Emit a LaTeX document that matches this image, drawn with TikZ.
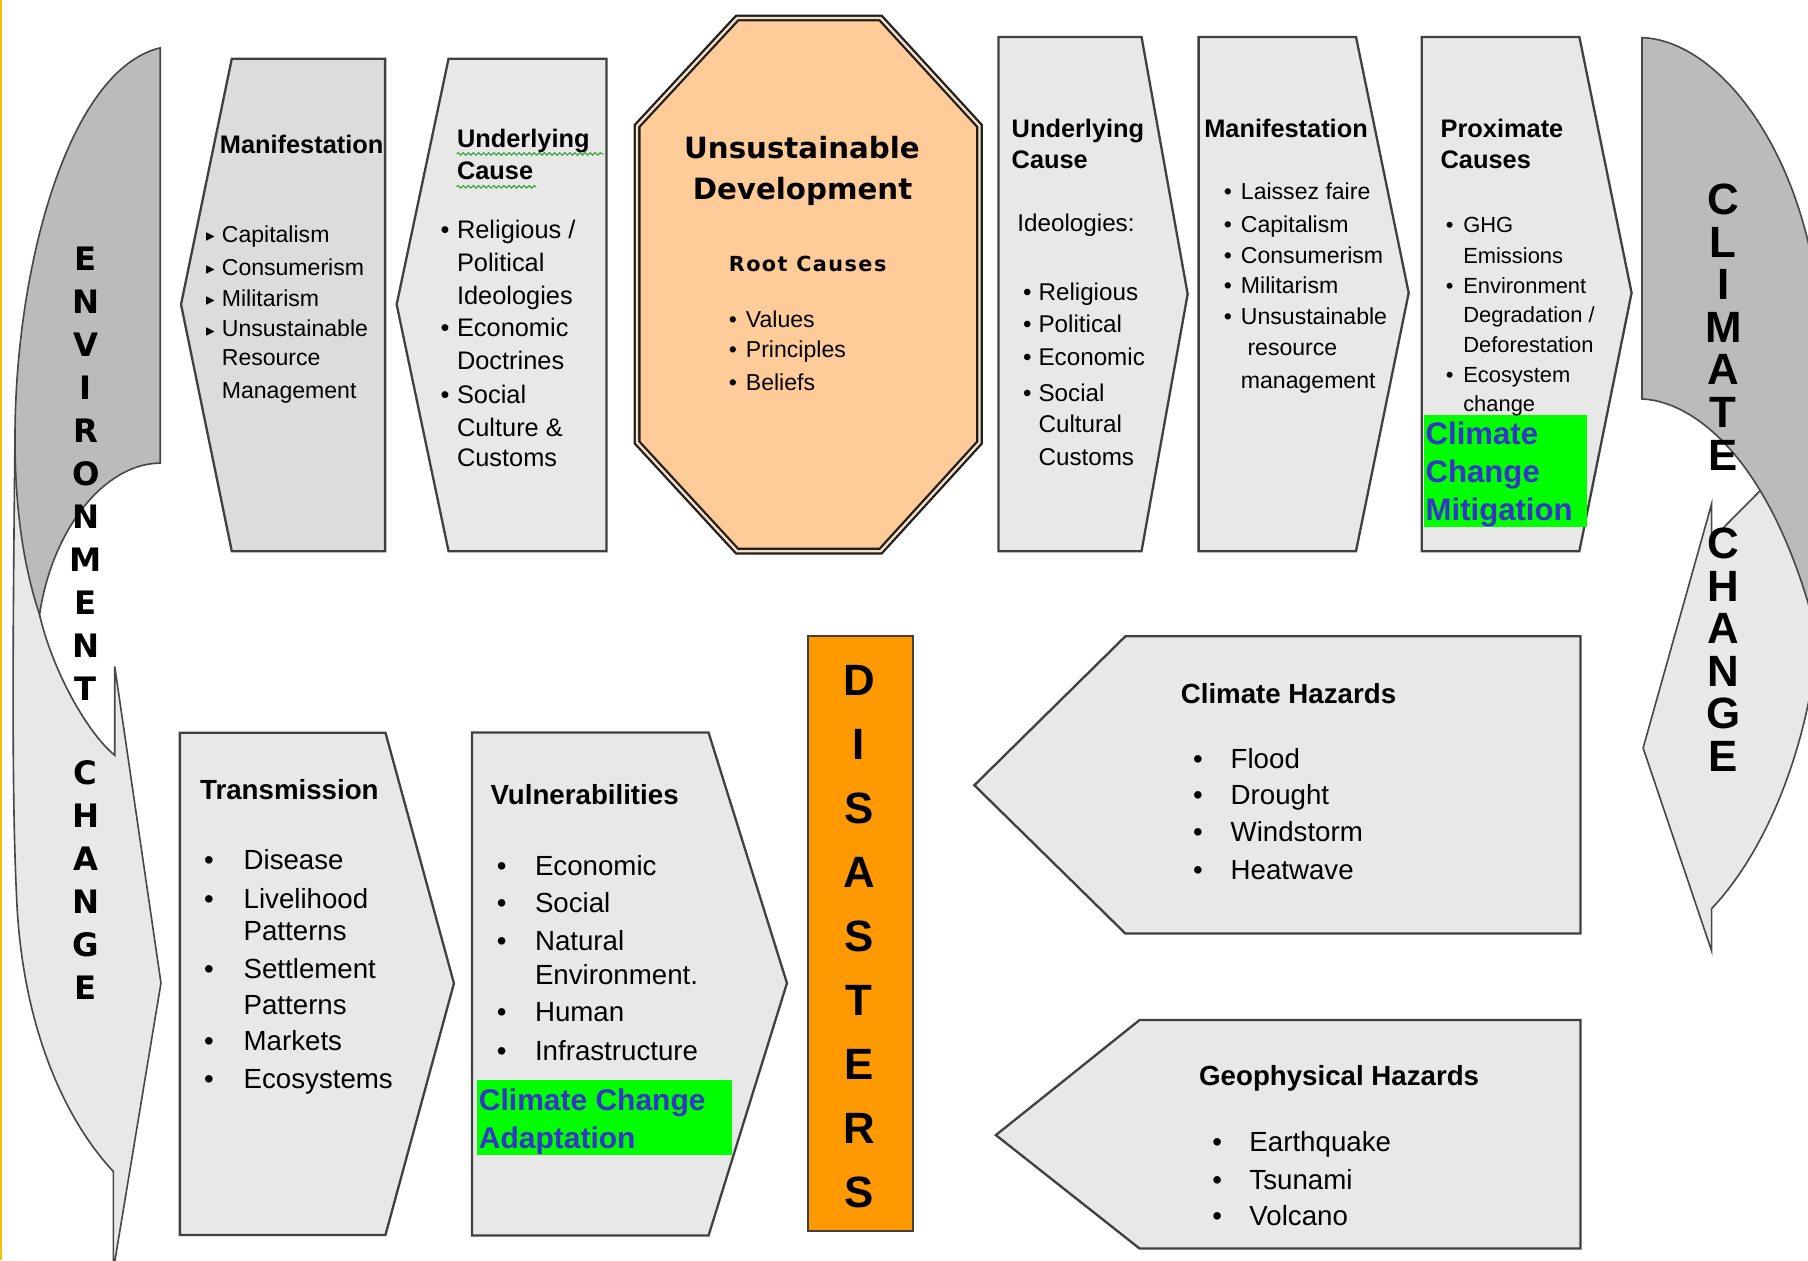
\documentclass[tikz,border=0pt]{standalone}
\usepackage{fontspec}
\setmainfont{Liberation Sans}
\newfontfamily\dejavu{DejaVu Sans}
\newfontfamily\rootfont[LetterSpace=7]{DejaVu Sans}
\usetikzlibrary{decorations.pathmorphing}
\definecolor{panelgrey}{HTML}{E8E8E8}
\definecolor{paneldark}{HTML}{DCDCDC}
\definecolor{bandgrey}{HTML}{BBBBBB}
\definecolor{peach}{HTML}{FFCC99}
\definecolor{peachrim}{HTML}{F8DEC4}
\definecolor{disorange}{HTML}{FF9900}
\definecolor{markgreen}{HTML}{00FF00}
\definecolor{markblue}{HTML}{3535C8}
\definecolor{edgeyellow}{HTML}{F2C200}
\definecolor{spellgreen}{HTML}{2CA02C}

\begin{document}
\begin{tikzpicture}[x=0.5pt, y=-0.5pt,
  panel/.style={draw=black!75, line width=1pt, fill=panelgrey},
  band/.style={draw=black!72, line width=0.7pt},
  itm/.style={anchor=mid west, inner sep=0pt, yshift=-1.5pt, font=\fontsize{#1}{#1}\selectfont},
  hd/.style={anchor=mid west, inner sep=0pt, yshift=-1.5pt, font=\bfseries\fontsize{#1}{#1}\selectfont},
  tri/.style={anchor=mid west, inner sep=0pt, yshift=-1.2pt, font=\dejavu\fontsize{7.5}{7.5}\selectfont},
  envl/.style={inner sep=0pt, font=\dejavu\bfseries\fontsize{14}{14}\selectfont},
  bigl/.style={inner sep=0pt, font=\bfseries\fontsize{#1}{#1}\selectfont},
  octtl/.style={inner sep=0pt, font=\dejavu\bfseries\fontsize{12.7}{12.7}\selectfont},
  hilite/.style={anchor=mid west, inner sep=0pt, yshift=-1.5pt, text=markblue, font=\bfseries\fontsize{#1}{#1}\selectfont},
  spell/.style={spellgreen, line width=0.45pt, decorate, decoration={snake, amplitude=0.55pt, segment length=2.2pt}}]

\useasboundingbox (0,0) rectangle (1568,1093);
\draw[edgeyellow, line width=1pt] (1,0) -- (1,1093);

\begin{scope}
\clip (0,0) rectangle (1568,1093);
\filldraw[band, fill=panelgrey] (13,380) .. controls (11,560) and (10,700) .. (15,790) .. controls (22,900) and (60,975) .. (98.3,1016) -- (98.3,1101.5) -- (139.6,852.5) -- (99.5,578) -- (99.5,655) .. controls (75,635) and (45,580) .. (34.3,533) -- cycle;
\filldraw[band, fill=bandgrey] (139,41.5) -- (139,401.6) .. controls (90,402) and (45,460) .. (34.3,533) .. controls (20,490) and (13,440) .. (13,380) .. controls (13,230) and (60,60) .. (139,41.5) -- cycle;
\filldraw[band, fill=panelgrey] (1484.4,437) -- (1425,648.7) -- (1484.4,824.7) -- (1484.4,788) .. controls (1530,740) and (1570,650) .. (1578,540) -- (1590,480) -- (1529,423) -- (1484.4,468) -- cycle;
\filldraw[band, fill=bandgrey] (1424,32.6) -- (1424,346) .. controls (1470,348) and (1540,400) .. (1578,560) -- (1600,560) -- (1600,270) -- (1578,270) .. controls (1565,130) and (1490,35) .. (1424,32.6) -- cycle;
\end{scope}

\filldraw[panel, fill=paneldark] (201,51) -- (334,51) -- (334,478) -- (201,478) -- (157,264) -- cycle;
\filldraw[panel] (389,51) -- (526,51) -- (526,478) -- (389,478) -- (344,264) -- cycle;
\filldraw[panel] (866,32) -- (990,32) -- (1030,255) -- (990,478) -- (866,478) -- cycle;
\filldraw[panel] (1039.5,32) -- (1176,32) -- (1221.7,254) -- (1176,478) -- (1039.5,478) -- cycle;
\filldraw[panel] (1233,32) -- (1369.7,32) -- (1415,254) -- (1369.7,478) -- (1233,478) -- cycle;
\filldraw[panel] (156,635.4) -- (334.3,635.4) -- (393.7,852.8) -- (334.3,1071) -- (156,1071) -- cycle;
\filldraw[panel] (409.4,635.3) -- (614.5,635.3) -- (682.5,852.6) -- (614.5,1071.5) -- (409.4,1071.5) -- cycle;
\filldraw[panel, fill=disorange] (700.6,551.4) rectangle (792,1067.8);
\filldraw[panel] (845,681) -- (976,551.8) -- (1370.6,551.8) -- (1370.6,809.6) -- (976,809.6) -- cycle;
\filldraw[panel] (863.7,984.4) -- (988.3,884.6) -- (1370.6,884.6) -- (1370.6,1082.8) -- (988.3,1082.8) -- cycle;
\filldraw[fill=peach, draw=black!88, line width=1pt, double=peachrim, double distance=1pt] (639.3,15.6) -- (763.7,15.6) -- (849.5,109.2) -- (849.5,383.8) -- (763.7,478) -- (639.3,478) -- (552.5,383.8) -- (552.5,109.2) -- cycle;
\fill[markgreen] (1234.7,360) rectangle (1375.9,457);
\fill[markgreen] (414,936.4) rectangle (635,1002);

\foreach \ch [count=\i] in {E,N,V,I,R,O,N,M,E,N,T} \node[envl] (env-\i) at (74.4,186.7+37.3*\i) {\ch};
\foreach \ch [count=\i] in {C,H,A,N,G,E} \node[envl] (envc-\i) at (74.4,633.2+37.2*\i) {\ch};
\foreach \ch [count=\i] in {C,L,I,M,A,T,E} \node[bigl=19] (clim-\i) at (1494.5,136.3+36.9*\i) {\ch};
\foreach \ch [count=\i] in {C,H,A,N,G,E} \node[bigl=19] (climc-\i) at (1494.5,434.6+36.85*\i) {\ch};
\foreach \ch [count=\i] in {D,I,S,A,S,T,E,R,S} \node[bigl=19] (dis-\i) at (745,534.1+55.6*\i) {\ch};

\node[hd=11] (ml-t) at (190.3,124.5) {Manifestation};
\foreach \y [count=\i] in {201.8,230.7,257.2,283.8} \node[tri] (ml-b\i) at (178.3,\y) {▸};
\foreach \y/\t [count=\i] in {201.8/Capitalism,230.7/Consumerism,257.2/Militarism,283.8/Unsustainable,308.7/Resource,336.9/Management} \node[itm=10] (ml-\i) at (192,\y) {\t};

\node[hd=11] (cl-t1) at (396,119.5) {Underlying};
\node[hd=11] (cl-t2) at (396,147.7) {Cause};
\draw[spell] (396,133.5) -- (524,133.5);
\draw[spell] (396,162) -- (465,162);
\foreach \y [count=\i] in {198.5,283.8,341.9} \node[itm=11] (cl-b\i) at (381.7,\y) {•};
\foreach \y/\t [count=\i] in {198.5/{Religious /},227.3/Political,255.6/Ideologies,283.8/Economic,312/Doctrines,341.9/Social,370/{Culture \&},396.6/Customs} \node[itm=11] (cl-\i) at (396,\y) {\t};

\node[octtl] (ud-1) at (695.5,127.8) {Unsustainable};
\node[octtl] (ud-2) at (696,166) {Development};
\node[inner sep=0pt, font=\rootfont\bfseries\fontsize{9}{9}\selectfont] (root) at (700.4,229) {Root Causes};
\foreach \y/\t [count=\i] in {275.5/Values,302/Principles,330/Beliefs} {
  \node[itm=10] (rc-b\i) at (631.8,\y) {•};
  \node[itm=10] (rc-\i) at (646.5,\y) {\t};
}

\node[hd=11] (cr-t1) at (877,111) {Underlying};
\node[hd=11] (cr-t2) at (877,137.7) {Cause};
\node[itm=10.5] (cr-id) at (882,192.5) {Ideologies:};
\foreach \y [count=\i] in {252.3,280.5,308.7,340} \node[itm=10.5] (cr-b\i) at (887,\y) {•};
\foreach \y/\t [count=\i] in {252.3/Religious,280.5/Political,308.7/Economic,340/Social,366.8/Cultural,395/Customs} \node[itm=10.5] (cr-\i) at (900.3,\y) {\t};

\node[hd=11] (mr-t) at (1044,111) {Manifestation};
\foreach \y [count=\i] in {165,193.5,220,246.6,273} \node[itm=10] (mr-b\i) at (1061,\y) {•};
\foreach \x/\y/\t [count=\i] in {1075.8/165/Laissez faire,1075.8/193.5/Capitalism,1075.8/220/Consumerism,1075.8/246.6/Militarism,1075.8/273/Unsustainable,1081.5/299.7/resource,1075.8/328.6/management} \node[itm=10] (mr-\i) at (\x,\y) {\t};

\node[hd=11] (pc-t1) at (1249,111) {Proximate};
\node[hd=11] (pc-t2) at (1249,137.7) {Causes};
\foreach \y [count=\i] in {193.5,246.6,323.6} \node[itm=9.5] (pc-b\i) at (1253.5,\y) {•};
\foreach \y/\t [count=\i] in {193.5/GHG,220/Emissions,246.6/Environment,271.5/{Degradation /},297/Deforestation,323.6/Ecosystem,348.5/change} \node[itm=9.5] (pc-\i) at (1268.6,\y) {\t};
\foreach \y/\t [count=\i] in {377/Climate,410/Change,443/Mitigation} \node[hilite=13.5] (mit-\i) at (1236,\y) {\t};

\node[hd=12] (tr-t) at (173.2,684.7) {Transmission};
\foreach \y [count=\i] in {745.6,779.4,840.7,902.8,935.5} \node[itm=12] (tr-b\i) at (176.6,\y) {•};
\foreach \y/\t [count=\i] in {745.6/Disease,779.4/Livelihood,807.7/Patterns,840.7/Settlement,871.6/Patterns,902.8/Markets,935.5/Ecosystems} \node[itm=12] (tr-\i) at (210.9,\y) {\t};

\node[hd=12] (vu-t) at (425,689) {Vulnerabilities};
\foreach \y [count=\i] in {751,783.2,816,878,911} \node[itm=12] (vu-b\i) at (430.5,\y) {•};
\foreach \y/\t [count=\i] in {751/Economic,783.2/Social,816/Natural,845.2/Environment.,878/Human,911/Infrastructure} \node[itm=12] (vu-\i) at (463.6,\y) {\t};
\node[hilite=13] (ada-1) at (415,954.7) {Climate Change};
\node[hilite=13] (ada-2) at (415,987.5) {Adaptation};

\node[hd=12] (ch-t) at (1023.7,601.4) {Climate Hazards};
\foreach \y/\t [count=\i] in {658/Flood,689.2/Drought,721.7/Windstorm,754.3/Heatwave} {
  \node[itm=12] (ch-b\i) at (1034.4,\y) {•};
  \node[itm=12] (ch-\i) at (1066.9,\y) {\t};
}

\node[hd=12] (gh-t) at (1039.6,933.4) {Geophysical Hazards};
\foreach \y/\t [count=\i] in {990.7/Earthquake,1023.4/Tsunami,1054.5/Volcano} {
  \node[itm=12] (gh-b\i) at (1051,\y) {•};
  \node[itm=12] (gh-\i) at (1083.2,\y) {\t};
}
\end{tikzpicture}
\end{document}
